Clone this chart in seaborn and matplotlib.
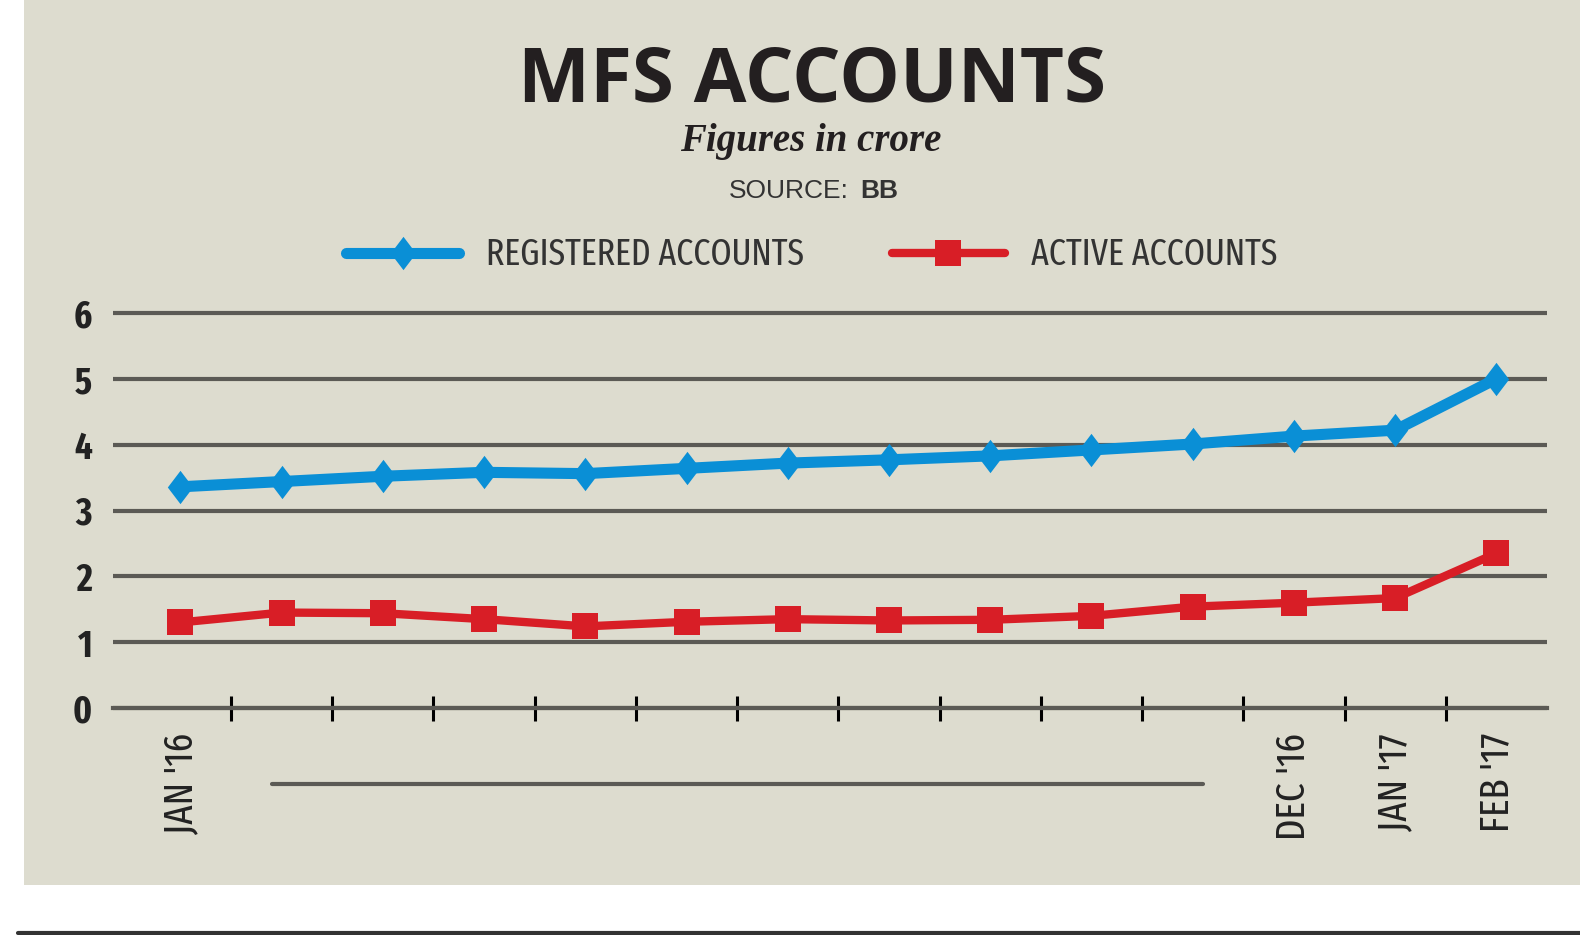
import numpy as np
import pandas as pd
import seaborn as sns
import matplotlib.pyplot as plt
from matplotlib.patches import Rectangle
from matplotlib.lines import Line2D
from matplotlib.font_manager import FontProperties

# data (crore)
months = ["JAN '16", "FEB '16", "MAR '16", "APR '16", "MAY '16", "JUN '16", "JUL '16",
          "AUG '16", "SEP '16", "OCT '16", "NOV '16", "DEC '16", "JAN '17", "FEB '17"]
shown_months = ["JAN '16", "DEC '16", "JAN '17", "FEB '17"]
registered = [3.36, 3.44, 3.52, 3.58, 3.56, 3.64, 3.72, 3.77, 3.83, 3.92, 4.01, 4.13, 4.22, 5.00]
active = [1.30, 1.45, 1.44, 1.35, 1.24, 1.31, 1.35, 1.33, 1.34, 1.40, 1.54, 1.60, 1.67, 2.35]
y_ticks = [0, 1, 2, 3, 4, 5, 6]
series_names = ["REGISTERED ACCOUNTS", "ACTIVE ACCOUNTS"]

BG = "#dddccf"
GRID = "#5b5a55"
BLUE = "#0a8fd6"
RED = "#d81e26"
NARROW = ["Fira Sans Extra Condensed", "Fira Sans Condensed", "DejaVu Sans"]
TALL_DIAMOND = [(0, 0.5), (0.38, 0), (0, -0.5), (-0.38, 0), (0, 0.5)]

sns.set_theme(style="white")
plt.rcParams["font.family"] = ["Liberation Sans", "DejaVu Sans"]

df = pd.DataFrame({"pos": range(len(months)), "month": months,
                   series_names[0]: registered, series_names[1]: active})
long_df = df.melt(id_vars=["pos", "month"], value_vars=series_names,
                  var_name="series", value_name="value")

fig = plt.figure(figsize=(15.8, 9.35), dpi=100)
fig.patch.set_facecolor("white")
fig.patches.append(Rectangle((24 / 1580, 50 / 935), 1, 1, transform=fig.transFigure,
                             facecolor=BG, edgecolor="none", zorder=-10))
fig.add_artist(Line2D([18 / 1580, 1], [2.5 / 935, 2.5 / 935], color="#333333", lw=3))

ax = fig.add_axes([113 / 1580, 0.2357, (1547 - 113) / 1580, 0.4366])
ax.set_facecolor("none")

sns.lineplot(data=long_df, x="pos", y="value", hue="series", style="series",
             palette={series_names[0]: BLUE, series_names[1]: RED},
             markers={series_names[0]: "D", series_names[1]: "s"},
             dashes=False, legend=False, ax=ax)

reg_line, act_line = ax.lines[0], ax.lines[1]
reg_line.set_marker(TALL_DIAMOND)
reg_line.set_linewidth(8)
reg_line.set_markersize(24)
reg_line.set_markeredgewidth(0)
reg_line.set_zorder(4)
act_line.set_linewidth(6)
act_line.set_markersize(19)
act_line.set_markeredgewidth(0)
act_line.set_zorder(3)

ax.set_xlim(-0.666, len(months) - 0.5)
ax.set_ylim(-0.1, 6.1)
ax.set_yticks(y_ticks)
ax.set_xticks(range(len(months)))
ax.set_xticklabels([m if m in shown_months else "" for m in months])
ax.set_xticks(np.arange(0.5, len(months) - 1, 1), minor=True)
ax.set_xlabel("")
ax.set_ylabel("")

ax.grid(axis="y", color=GRID, lw=3)
ax.grid(axis="x", visible=False)
ax.set_axisbelow(True)
for side in ["top", "right", "left"]:
    ax.spines[side].set_visible(False)
ax.spines["bottom"].set_position(("data", 0))
ax.spines["bottom"].set_color(GRID)
ax.spines["bottom"].set_linewidth(3)

ax.tick_params(axis="x", which="major", length=0, pad=18, labelrotation=90)
ax.tick_params(axis="x", which="minor", direction="inout", length=18, width=2.2,
               color="black", bottom=True)
ax.tick_params(axis="y", length=0, pad=15)
for lab in ax.get_xticklabels():
    lab.set_fontproperties(FontProperties(family=NARROW, size=29))
    lab.set_color("#222222")
for lab in ax.get_yticklabels():
    lab.set_fontproperties(FontProperties(family=NARROW, weight="bold", size=27))
    lab.set_color("#222222")

# bracket under the months that have no label
ax.plot([1 - 0.1, len(months) - 4 + 0.1], [-1.15, -1.15], color=GRID, lw=3, clip_on=False)

leg = fig.legend(handles=[reg_line, act_line], labels=series_names, loc="center",
                 bbox_to_anchor=(812 / 1580, 1 - 255 / 935), ncol=2, frameon=False,
                 handlelength=3.07, handletextpad=0.72, columnspacing=2.39, numpoints=1,
                 prop=FontProperties(family=NARROW, size=26.5))
for t in leg.get_texts():
    t.set_color("#333333")

fig.text(812 / 1580, 1 - 101 / 935, "MFS ACCOUNTS", ha="center", va="baseline",
         fontfamily=["Open Sans", "DejaVu Sans"], fontweight="bold", fontsize=55,
         color="#231f20")
fig.text(811 / 1580, 1 - 151 / 935, "Figures in crore", ha="center", va="baseline",
         fontfamily=["Liberation Serif", "DejaVu Serif"], fontstyle="italic",
         fontweight="bold", fontsize=28, color="#231f20")
fig.text(849 / 1580, 1 - 198.5 / 935, "SOURCE:", ha="right", va="baseline",
         fontsize=19, color="#333333")
fig.text(860 / 1580, 1 - 198.5 / 935, "BB", ha="left", va="baseline",
         fontsize=19, fontweight="bold", color="#333333")

fig.savefig("out.png", dpi=100, facecolor=fig.get_facecolor())
